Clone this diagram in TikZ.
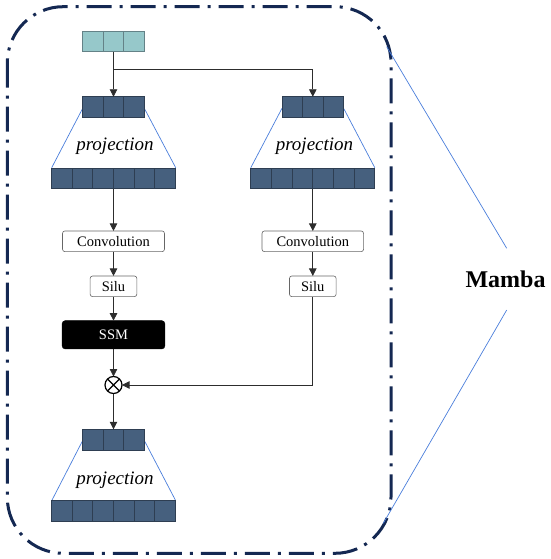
\documentclass[tikz,border=0pt]{standalone}
\usepackage{fontspec}
\setmainfont{Liberation Serif}
\usetikzlibrary{arrows.meta,calc}
\definecolor{navy}{RGB}{20,40,82}
\definecolor{blk}{RGB}{70,96,126}
\definecolor{blkedge}{RGB}{46,62,82}
\definecolor{teal}{RGB}{150,200,202}
\definecolor{tealedge}{RGB}{100,130,135}
\definecolor{bline}{RGB}{74,126,219}
\definecolor{conncol}{RGB}{45,45,45}
\tikzset{
  celldiv3/.style={path picture={\foreach \k in {1,2}{\draw[#1,line width=0.7pt]
      ($(path picture bounding box.south west)!\k/3!(path picture bounding box.south east)$) --
      ($(path picture bounding box.north west)!\k/3!(path picture bounding box.north east)$);}}},
  celldiv6/.style={path picture={\foreach \k in {1,...,5}{\draw[#1,line width=0.7pt]
      ($(path picture bounding box.south west)!\k/6!(path picture bounding box.south east)$) --
      ($(path picture bounding box.north west)!\k/6!(path picture bounding box.north east)$);}}},
  smallblk/.style={draw=blkedge, fill=blk, line width=0.7pt, minimum width=61.6pt, minimum height=20.8pt, inner sep=0pt, outer sep=0pt, celldiv3=blkedge},
  bigblk/.style={draw=blkedge, fill=blk, line width=0.7pt, minimum width=124pt, minimum height=20.8pt, inner sep=0pt, outer sep=0pt, celldiv6=blkedge},
  inblk/.style={draw=tealedge, fill=teal, line width=0.7pt, minimum width=61.6pt, minimum height=20.8pt, inner sep=0pt, outer sep=0pt, celldiv3=tealedge},
  opbox/.style={draw=gray!80!black, line width=0.6pt, rounded corners=2.5pt, minimum height=20.7pt, inner sep=0pt, outer sep=0pt, font=\fontsize{14.5}{17}\selectfont},
  ssmbox/.style={fill=black, draw=black, rounded corners=3pt, minimum width=102.7pt, minimum height=28.3pt, inner sep=0pt, outer sep=0pt, text=white, font=\fontsize{14.5}{17}\selectfont},
  projtext/.style={font=\fontsize{19}{22}\selectfont\itshape, inner sep=0pt},
  conn/.style={draw=conncol, line width=0.8pt, -{Triangle[width=7.5pt,length=7.5pt]}},
  trap/.style={draw=bline, line width=0.7pt},
  frame/.style={draw=navy, line width=3pt, dash pattern=on 25pt off 8pt on 3pt off 8pt, rounded corners=56pt},
  otimesnode/.style={circle, draw=black, line width=1.2pt, minimum size=17pt, inner sep=0pt, outer sep=0pt}
}
\begin{document}
\begin{tikzpicture}[x=1pt,y=-1pt]
\useasboundingbox (0,0) rectangle (550,559);
% frame
\draw[frame] (7.3,6.7) rectangle (391,553.3);
% trapezoid side lines (behind blocks)
\coordinate (t1l) at (82.7,108.3);
\coordinate (t1r) at (144.3,108.3);
\coordinate (b1l) at (51.7,167.7);
\coordinate (b1r) at (175.7,167.7);
\coordinate (t2l) at (282,108.3);
\coordinate (t2r) at (343.6,108.3);
\coordinate (b2l) at (250.8,167.7);
\coordinate (b2r) at (374.8,167.7);
\coordinate (t3l) at (82.7,440.5);
\coordinate (t3r) at (144.3,440.5);
\coordinate (b3l) at (51.7,500.7);
\coordinate (b3r) at (175.7,500.7);
\draw[trap] (t1l) -- (b1l) (t1r) -- (b1r);
\draw[trap] (t2l) -- (b2l) (t2r) -- (b2r);
\draw[trap] (t3l) -- (b3l) (t3r) -- (b3r);
% blocks
\node[inblk] (in) at (113.5,41.3) {};
\node[smallblk] (s1) at (113.5,107.2) {};
\node[bigblk] (g1) at (113.5,178.3) {};
\node[smallblk] (s2) at (312.8,107.2) {};
\node[bigblk] (g2) at (312.8,178.3) {};
\node[smallblk] (s3) at (113.5,439.7) {};
\node[bigblk] (g3) at (113.5,511.2) {};
\node[projtext] (p1) at (115,146.7) {projection};
\node[projtext] (p2) at (314.5,146.7) {projection};
\node[projtext] (p3) at (115,480) {projection};
% operations
\node[opbox, minimum width=102pt] (c1) at (113.5,241.3) {Convolution};
\node[opbox, minimum width=101.6pt] (c2) at (312.8,241.3) {Convolution};
\node[opbox, minimum width=46.7pt] (si1) at (113.5,286.3) {Silu};
\node[opbox, minimum width=46.7pt] (si2) at (312.8,286.3) {Silu};
\node[ssmbox] (ssm) at (113.5,334.8) {SSM};
\node[otimesnode] (ot) at (113.5,385) {};
\draw[black, line width=1.2pt] (ot.north west) -- (ot.south east) (ot.north east) -- (ot.south west);
% connectors
\coordinate (br) at (113.5,69);
\draw[conn] (in) -- (s1);
\draw[conn] (br) -| (s2.north);
\draw[conn] (g1.south) -- (c1.north);
\draw[conn] (g2.south) -- (c2.north);
\draw[conn] (c1) -- (si1);
\draw[conn] (c2) -- (si2);
\draw[conn] (si1) -- (ssm);
\draw[conn] (ssm) -- (ot);
\draw[conn] (si2.south) |- (ot.east);
\draw[conn] (ot) -- (s3);
% Mamba
\node[font=\fontsize{24}{28}\selectfont\bfseries, inner sep=0pt] (mamba) at (505.5,279.3) {Mamba};
\coordinate (fc1) at (386.7,46.7);
\coordinate (fc2) at (383.3,523.3);
\coordinate (m1) at (506.7,248.3);
\coordinate (m2) at (506.7,310);
\draw[trap] (fc1) -- (m1);
\draw[trap] (m2) -- (fc2);
\end{tikzpicture}
\end{document}
